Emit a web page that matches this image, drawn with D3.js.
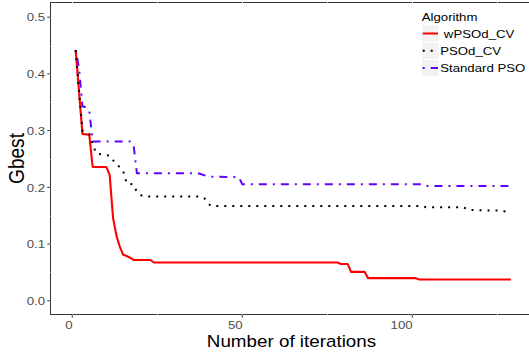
<!DOCTYPE html>
<html><head><meta charset="utf-8">
<script src="https://cdn.jsdelivr.net/npm/d3@7"></script>
<style>
body{margin:0;background:#fff}
text{font-family:"Liberation Sans",Arial,Helvetica,sans-serif}
</style>
</head><body>
<svg id="chart" width="529" height="354"></svg>
<script>
// ---------------- data ----------------
const seriesNames = [" wPSOd_CV", "PSOd_CV", "Standard PSO"];
const seriesColors = ["#FF0000", "#000000", "#6400FF"];

const wpsoIter = [1,2,3,5,6,10,11,12,13,14,15,16,17,18,23,24,78,79,81,82,86,87,101,102,129];
const wpsoVal  = [0.442,0.368,0.294,0.293,0.236,0.236,0.222,0.146,0.115,0.095,0.081,0.079,0.076,0.072,0.072,0.0675,0.0675,0.065,0.065,0.051,0.051,0.040,0.040,0.0375,0.0375];

const psoIter = [1,2,3,4,5,6,7,8,11,12,13,14,15,16,17,18,19,20,21,37,38,39,40,41,103,104,115,116,117,126,127,129];
const psoVal  = [0.442,0.370,0.300,0.296,0.294,0.277,0.260,0.259,0.256,0.248,0.240,0.236,0.228,0.207,0.206,0.205,0.192,0.187,0.184,0.184,0.183,0.180,0.171,0.167,0.167,0.165,0.165,0.162,0.160,0.159,0.158,0.156];

const stdIter = [1,2,3,4,5,6,17,18,19,37,40,49,50,103,104,129];
const stdVal  = [0.442,0.410,0.343,0.341,0.336,0.281,0.281,0.276,0.225,0.225,0.219,0.218,0.2055,0.2055,0.2025,0.2025];

const xTickVals = [0, 50, 100];
const xMinorVals = [25, 75, 125];
const yTickVals = [0, 0.1, 0.2, 0.3, 0.4, 0.5];
const yMinorVals = [0.05, 0.15, 0.25, 0.35, 0.45];

const xTitle = "Number of iterations";
const yTitle = "Gbest";
const legendTitle = "Algorithm";

// ---------------- layout ----------------
const SX = 1.12; // horizontal stretch of the reference's text
const panel = {l: 50.5, t: 2.5, r: 536.4, b: 314.5};
const x = d3.scaleLinear().domain([-6.4, 136.5]).range([panel.l, panel.r]);
const y = d3.scaleLinear().domain([-0.025, 0.525]).range([315, 3]);

const svg = d3.select("#chart");

function stext(g, px, py, str, size, anchor, color, rot) {
  return g.append("text")
    .attr("transform", `translate(${px},${py}) scale(${SX},1)` + (rot ? ` rotate(${rot})` : ""))
    .attr("text-anchor", anchor)
    .attr("font-size", size)
    .attr("fill", color)
    .style("white-space", "pre")
    .text(str);
}

// panel border (left/top/bottom visible)
svg.append("rect")
  .attr("x", panel.l).attr("y", panel.t)
  .attr("width", panel.r - panel.l).attr("height", panel.b - panel.t)
  .attr("fill", "#fff").attr("stroke", "#333").attr("stroke-width", 1);

// white grid lines (visible only where they cut the border)
const grid = svg.append("g").attr("stroke", "#fff");
xTickVals.concat(xMinorVals).forEach(v => {
  const px = Math.round(x(v)) + 0.5;
  grid.append("line").attr("x1", px).attr("x2", px).attr("y1", panel.t - 0.5).attr("y2", panel.b + 0.5)
    .attr("stroke-width", xTickVals.includes(v) ? 1 : 0.8);
});
yTickVals.concat(yMinorVals).forEach(v => {
  const py = Math.round(y(v)) + 0.5;
  grid.append("line").attr("x1", panel.l - 0.5).attr("x2", panel.r).attr("y1", py).attr("y2", py)
    .attr("stroke-width", yTickVals.includes(v) ? 0.8 : 0.6).attr("stroke-opacity", 0.7);
});

// clip
svg.append("clipPath").attr("id", "clip").append("rect")
  .attr("x", panel.l).attr("y", panel.t).attr("width", panel.r - panel.l).attr("height", panel.b - panel.t);

const series = [
  {iter: wpsoIter, val: wpsoVal, dash: null},
  {iter: psoIter, val: psoVal, dash: "2,6"},
  {iter: stdIter, val: stdVal, dash: "2,6,8,6"}
];
const line = d3.line().x(d => x(d[0])).y(d => y(d[1]));
const gLines = svg.append("g").attr("clip-path", "url(#clip)");
[0, 2, 1].forEach(k => {
  const s = series[k];
  const pts = s.iter.map((it, i) => [it, s.val[i]]);
  gLines.append("path").datum(pts)
    .attr("d", line)
    .attr("fill", "none")
    .attr("stroke", seriesColors[k])
    .attr("stroke-width", k === 0 ? 2.1 : 2)
    .attr("stroke-linejoin", "round")
    .attr("stroke-dasharray", s.dash);
});

// axes ticks
const axG = svg.append("g").attr("stroke", "#333").attr("stroke-width", 1);
yTickVals.forEach(v => {
  const py = y(v);
  axG.append("line").attr("x1", panel.l - 3.2).attr("x2", panel.l).attr("y1", py).attr("y2", py);
  stext(svg, 45, py + 4.2, d3.format(".1f")(v), 11.8, "end", "#4D4D4D");
});
xTickVals.forEach(v => {
  const px = x(v);
  axG.append("line").attr("x1", px).attr("x2", px).attr("y1", panel.b).attr("y2", panel.b + 3.2);
  stext(svg, px + 0.3, 329.3, String(v), 11.8, "end", "#4D4D4D");
});

// axis titles
stext(svg, 291.5, 347.3, xTitle, 16.8, "middle", "#000");
stext(svg, 24, 158.5, yTitle, 19.1, "middle", "#000", -90);

// legend
const lg = svg.append("g");
stext(lg, 421.7, 20.7, legendTitle, 11.8, "start", "#000");
const keyX = 421.7, keyW = 17.3, keyH = 17.3, key0 = 24.85;
seriesNames.forEach((name, k) => {
  const ky = key0 + k * keyH;
  lg.append("rect").attr("x", keyX).attr("y", ky).attr("width", keyW).attr("height", keyH)
    .attr("fill", "#F2F2F2").attr("stroke", "#fff").attr("stroke-width", 1);
  lg.append("line").attr("x1", keyX + 1).attr("x2", keyX + keyW - 1)
    .attr("y1", ky + keyH / 2).attr("y2", ky + keyH / 2)
    .attr("stroke", seriesColors[k]).attr("stroke-width", 2)
    .attr("stroke-dasharray", series[k].dash);
  stext(lg, 440.2, ky + keyH / 2 + 4.2, name, 11.8, "start", "#000");
});
</script>
</body></html>
